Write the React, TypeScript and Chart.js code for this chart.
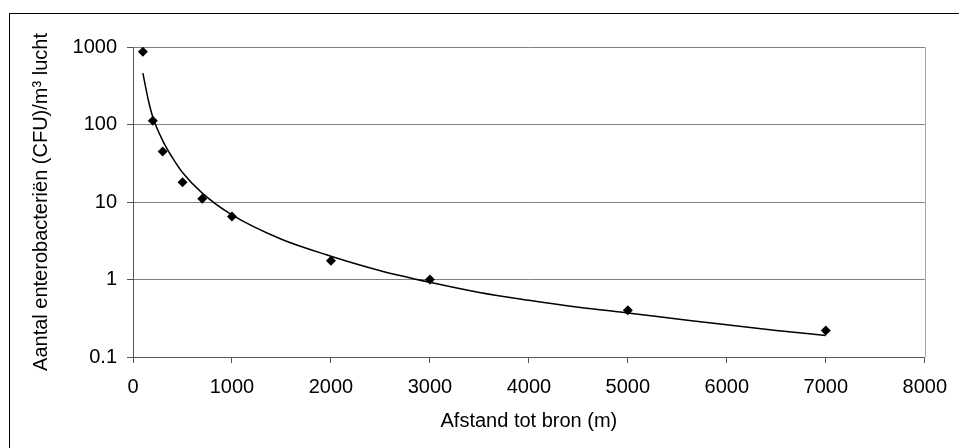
import React, { useEffect, useRef } from "react";
import { Chart, registerables } from "chart.js";

Chart.register(...registerables);

// Measured data points (distance in m, CFU per m3 air)
const distances = [100, 200, 300, 500, 700, 1000, 2000, 3000, 5000, 7000];
const counts = [870, 112, 45, 18, 11, 6.5, 1.75, 1.0, 0.4, 0.22];

// Trendline
const trendDistances = [100, 150, 200, 300, 400, 500, 700, 1000, 1500, 2000, 2500, 3000, 3500, 4000, 4500, 5000, 5500, 6000, 6500, 7000];
const trendCounts = [460, 220, 125, 62, 37, 24, 13, 6.8, 3.3, 2.0, 1.3, 0.92, 0.68, 0.54, 0.44, 0.37, 0.31, 0.26, 0.22, 0.19];

const yTicks = [0.1, 1, 10, 100, 1000];
const yTickLabels = ["0.1", "1", "10", "100", "1000"];
const xTickLabels = ["0", "1000", "2000", "3000", "4000", "5000", "6000", "7000", "8000"];

const xTitle = "Afstand tot bron (m)";
const yTitle = "Aantal enterobacteriën (CFU)/m³ lucht";

const FONT = "'Liberation Sans', Arial, sans-serif";

export default function App() {
  const ref = useRef<HTMLCanvasElement | null>(null);

  useEffect(() => {
    if (!ref.current) return;
    const framePlugin = {
      id: "frame",
      beforeDraw(chart: any) {
        const ctx = chart.ctx;
        ctx.save();
        ctx.fillStyle = "#ffffff";
        ctx.fillRect(0, 0, chart.width, chart.height);
        ctx.strokeStyle = "#000000";
        ctx.lineWidth = 1;
        ctx.strokeRect(9.5, 13.5, 960, 450);
        ctx.restore();
      },
      afterDraw(chart: any) {
        const a = chart.chartArea;
        const ctx = chart.ctx;
        ctx.save();
        ctx.strokeStyle = "#a6a6a6";
        ctx.lineWidth = 1;
        ctx.beginPath();
        ctx.moveTo(Math.round(a.right) + 0.5, a.top);
        ctx.lineTo(Math.round(a.right) + 0.5, a.bottom);
        ctx.stroke();
        ctx.restore();
      },
    };

    const chart = new Chart(ref.current, {
      type: "scatter",
      data: {
        datasets: [
          {
            label: "metingen",
            data: distances.map((x, i) => ({ x, y: counts[i] })),
            pointStyle: "rectRot",
            pointRadius: 5,
            backgroundColor: "#000000",
            borderColor: "#000000",
            borderWidth: 0,
            showLine: false,
            order: 0,
          },
          {
            label: "trend",
            data: trendDistances.map((x, i) => ({ x, y: trendCounts[i] })),
            showLine: true,
            pointRadius: 0,
            borderColor: "#000000",
            borderWidth: 1.5,
            cubicInterpolationMode: "monotone",
            fill: false,
            order: 1,
          },
        ],
      },
      options: {
        animation: false,
        responsive: false,
        maintainAspectRatio: false,
        devicePixelRatio: 1,
        layout: { padding: { left: 0, top: 47, right: 32, bottom: 0 } },
        plugins: {
          legend: { display: false },
          tooltip: { enabled: false },
        },
        font: { family: FONT },
        scales: {
          x: {
            type: "linear",
            min: 0,
            max: 8000,
            afterFit(scale: any) {
              scale.height = 91;
            },
            afterBuildTicks(scale: any) {
              scale.ticks = xTickLabels.map((t) => ({ value: Number(t) }));
            },
            ticks: {
              color: "#000000",
              font: { family: FONT, size: 20 },
              padding: 12,
              maxRotation: 0,
              autoSkip: false,
              callback: (_v: any, i: number) => xTickLabels[i],
            },
            grid: {
              drawOnChartArea: false,
              drawTicks: true,
              tickLength: 6,
              color: "#555555",
              tickColor: "#555555",
            },
            border: { display: true, color: "#555555", width: 1 },
            title: {
              display: true,
              text: xTitle,
              color: "#000000",
              font: { family: FONT, size: 20 },
              padding: { top: 0, bottom: 15 },
            },
          },
          y: {
            type: "logarithmic",
            min: 0.1,
            max: 1000,
            afterFit(scale: any) {
              scale.width = 133;
            },
            afterBuildTicks(scale: any) {
              scale.ticks = yTicks.map((v) => ({ value: v, major: true }));
            },
            ticks: {
              color: "#000000",
              font: { family: FONT, size: 20 },
              padding: 10,
              autoSkip: false,
              callback: (_v: any, i: number) => yTickLabels[i],
            },
            grid: {
              drawOnChartArea: true,
              drawTicks: true,
              tickLength: 6,
              color: "#808080",
              tickColor: "#555555",
            },
            border: { display: true, color: "#555555", width: 1 },
            title: {
              display: true,
              text: yTitle,
              color: "#000000",
              font: { family: FONT, size: 20 },
              padding: { top: 29, bottom: 0 },
            },
          },
        },
      } as any,
      plugins: [framePlugin],
    });
    return () => chart.destroy();
  }, []);

  return (
    <div style={{ position: "fixed", left: 0, top: 0, width: 959, height: 448, background: "#fff" }}>
      <canvas ref={ref} width={959} height={448} style={{ display: "block", width: 959, height: 448 }} />
    </div>
  );
}
